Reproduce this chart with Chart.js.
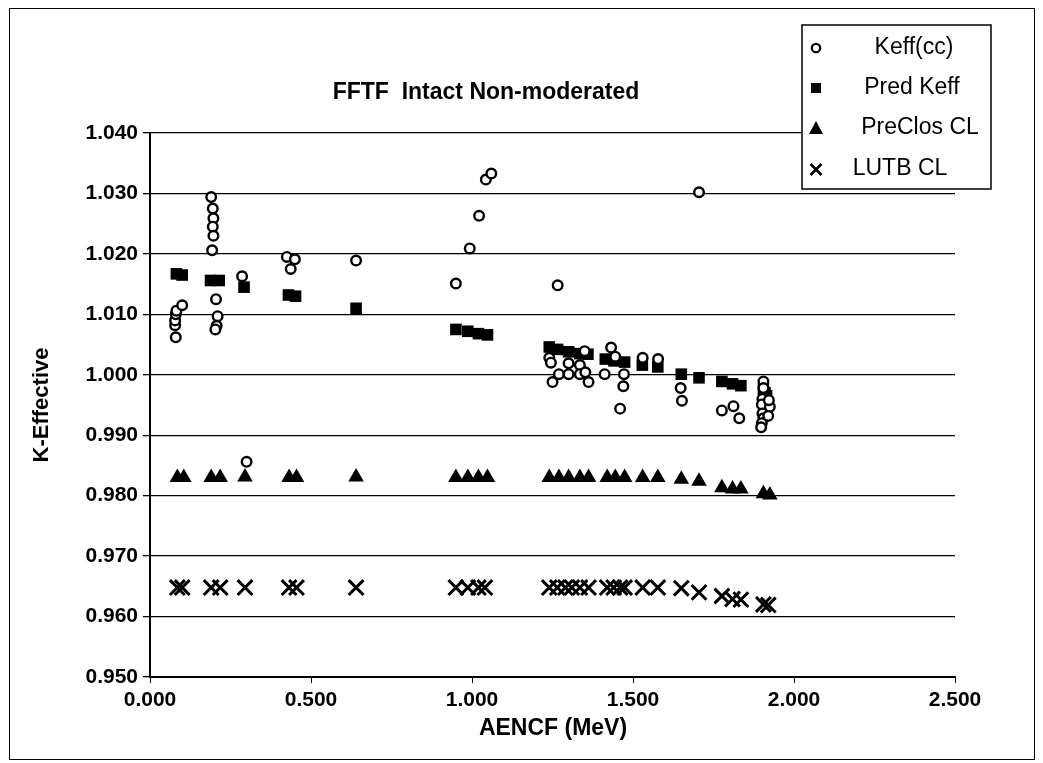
<!DOCTYPE html>
<html>
<head>
<meta charset="utf-8">
<title>FFTF Intact Non-moderated</title>
<script src="https://cdn.jsdelivr.net/npm/chart.js@4/dist/chart.umd.min.js"></script>
<style>
  html, body { margin: 0; padding: 0; background: #fff; }
  #wrap { width: 1043px; height: 763px; position: relative; }
</style>
</head>
<body>
<div id="wrap"><canvas id="chart" width="1043" height="763"></canvas></div>
<script>
// values
var keffX = [0.080, 0.078, 0.078, 0.080, 0.082, 0.100,
    0.190, 0.195, 0.197, 0.195, 0.197, 0.193,
    0.205, 0.210, 0.207, 0.203,
    0.286, 0.300,
    0.425, 0.450, 0.437,
    0.640,
    0.950, 0.993, 1.022, 1.043, 1.060,
    1.266, 1.705,
    1.240, 1.245, 1.250, 1.270, 1.300, 1.300, 1.335, 1.335, 1.350, 1.352, 1.362,
    1.432, 1.445, 1.412, 1.472, 1.470, 1.460,
    1.530, 1.578,
    1.648, 1.652,
    1.776, 1.812, 1.830,
    1.905, 1.905, 1.902, 1.900, 1.902, 1.905, 1.900, 1.898, 1.925, 1.922, 1.920];
var keffY = [1.0062, 1.0082, 1.0090, 1.0100, 1.0106, 1.0115,
    1.0294, 1.0275, 1.0259, 1.0245, 1.0230, 1.0206,
    1.0125, 1.0097, 1.0081, 1.0075,
    1.0163, 0.9856,
    1.0195, 1.0191, 1.0175,
    1.0189,
    1.0151, 1.0209, 1.0263, 1.0323, 1.0333,
    1.0148, 1.0302,
    1.0028, 1.0020, 0.9988, 1.0001, 1.0019, 1.0001, 1.0016, 1.0001, 1.0039, 1.0004, 0.9988,
    1.0045, 1.0030, 1.0001, 1.0001, 0.9981, 0.9944,
    1.0028, 1.0026,
    0.9978, 0.9957,
    0.9941, 0.9948, 0.9928,
    0.9989, 0.9978, 0.9960, 0.9951, 0.9936, 0.9928, 0.9920, 0.9913, 0.9947, 0.9958, 0.9932];

var predX = [0.082, 0.100, 0.188, 0.215, 0.292, 0.430, 0.452, 0.640,
    0.950, 0.987, 1.020, 1.048,
    1.240, 1.266, 1.300, 1.335, 1.360,
    1.414, 1.441, 1.474,
    1.529, 1.577, 1.650, 1.705,
    1.776, 1.809, 1.835,
    1.905, 1.910, 1.915];
var predY = [1.0167, 1.0165, 1.0156, 1.0156, 1.0145, 1.0132, 1.0130, 1.0110,
    1.0075, 1.0072, 1.0068, 1.0066,
    1.0046, 1.0042, 1.0038, 1.0035, 1.0034,
    1.0026, 1.0023, 1.0021,
    1.0016, 1.0013, 1.0001, 0.9995,
    0.9989, 0.9985, 0.9982,
    0.9976, 0.9970, 0.9965];

var closX = [0.085, 0.105, 0.190, 0.218, 0.295, 0.432, 0.455, 0.640,
    0.950, 0.987, 1.020, 1.048,
    1.240, 1.270, 1.300, 1.335, 1.362,
    1.420, 1.445, 1.474, 1.530, 1.577,
    1.650, 1.705, 1.776, 1.809, 1.835, 1.905, 1.925];
var closY = [0.9830, 0.9830, 0.9830, 0.9830, 0.9831, 0.9830, 0.9830, 0.9831,
    0.9830, 0.9830, 0.9830, 0.9830,
    0.9830, 0.9830, 0.9830, 0.9830, 0.9830,
    0.9830, 0.9830, 0.9830, 0.9830, 0.9830,
    0.9827, 0.9824, 0.9813, 0.9811, 0.9811, 0.9803, 0.9801];

var lutbX = [0.085, 0.100, 0.190, 0.218, 0.295, 0.432, 0.455, 0.640,
    0.950, 0.987, 1.020, 1.040,
    1.240, 1.265, 1.290, 1.310, 1.335, 1.362, 1.420, 1.440, 1.460, 1.474, 1.530, 1.577,
    1.650, 1.705, 1.776, 1.809, 1.835, 1.905, 1.920];
var lutbY = [0.9648, 0.9648, 0.9648, 0.9648, 0.9648, 0.9648, 0.9648, 0.9648,
    0.9648, 0.9648, 0.9648, 0.9648,
    0.9648, 0.9648, 0.9648, 0.9648, 0.9648, 0.9648, 0.9648, 0.9648, 0.9648, 0.9648, 0.9648, 0.9648,
    0.9647, 0.9640, 0.9634, 0.9629, 0.9628, 0.9620, 0.9619];

var seriesNames = ['Keff(cc)', 'Pred Keff', 'PreClos CL', 'LUTB CL'];
var chartTitle = 'FFTF  Intact Non-moderated';
var xTitle = 'AENCF (MeV)';
var yTitle = 'K-Effective';

var FONT = '"Liberation Sans", Arial, sans-serif';

function toPoints(xs, ys) {
    return xs.map(function(x, i) { return {x: x, y: ys[i]}; });
}

// title, axis titles, legend box and outer frame
var decorPlugin = {
    id: 'decor',
    afterDraw: function(chart) {
        var ctx = chart.ctx;
        ctx.save();
        ctx.strokeStyle = '#000';
        ctx.lineWidth = 1;
        ctx.strokeRect(9.5, 8.5, 1025, 751);

        ctx.fillStyle = '#000';
        ctx.textAlign = 'center';
        ctx.textBaseline = 'middle';
        ctx.font = 'bold 23px ' + FONT;
        ctx.fillText(chartTitle, 486, 93);

        ctx.font = 'bold 23px ' + FONT;
        ctx.fillText(xTitle, 553, 729);
        ctx.save();
        ctx.translate(42, 405);
        ctx.rotate(-Math.PI / 2);
        ctx.font = 'bold 22px ' + FONT;
        ctx.fillText(yTitle, 0, 0);
        ctx.restore();

        // legend
        ctx.fillStyle = '#fff';
        ctx.fillRect(802, 25, 189, 164);
        ctx.lineWidth = 1.5;
        ctx.strokeStyle = '#000';
        ctx.strokeRect(802, 25, 189, 164);

        var mx = 816;
        ctx.lineWidth = 2.2;
        ctx.beginPath();
        ctx.arc(mx, 48, 4.2, 0, Math.PI * 2);
        ctx.stroke();

        ctx.fillStyle = '#000';
        ctx.fillRect(mx - 5, 83, 10, 10);

        ctx.beginPath();
        ctx.moveTo(mx, 121);
        ctx.lineTo(mx + 7, 134);
        ctx.lineTo(mx - 7, 134);
        ctx.closePath();
        ctx.fill();

        ctx.lineWidth = 2.5;
        ctx.beginPath();
        ctx.moveTo(mx - 5.5, 164); ctx.lineTo(mx + 5.5, 175);
        ctx.moveTo(mx + 5.5, 164); ctx.lineTo(mx - 5.5, 175);
        ctx.stroke();

        ctx.font = '23px ' + FONT;
        ctx.fillText(seriesNames[0], 914, 48);
        ctx.fillText(seriesNames[1], 912, 88);
        ctx.fillText(seriesNames[2], 920, 128);
        ctx.fillText(seriesNames[3], 900, 169);
        ctx.restore();
    }
};

var ctx = document.getElementById('chart').getContext('2d');
var chart = new Chart(ctx, {
    type: 'scatter',
    data: {
        datasets: [
            {
                label: seriesNames[0],
                data: toPoints(keffX, keffY),
                pointStyle: 'circle',
                pointRadius: 4.8,
                borderWidth: 2.4,
                borderColor: '#000',
                backgroundColor: '#fff'
            },
            {
                label: seriesNames[1],
                data: toPoints(predX, predY),
                pointStyle: 'rect',
                pointRadius: 8.2,
                borderWidth: 0,
                borderColor: '#000',
                backgroundColor: '#000'
            },
            {
                label: seriesNames[2],
                data: toPoints(closX, closY),
                pointStyle: 'triangle',
                pointRadius: 9,
                borderWidth: 0,
                borderColor: '#000',
                backgroundColor: '#000'
            },
            {
                label: seriesNames[3],
                data: toPoints(lutbX, lutbY),
                pointStyle: 'crossRot',
                pointRadius: 10.5,
                borderWidth: 3,
                borderColor: '#000',
                backgroundColor: '#000'
            }
        ]
    },
    options: {
        responsive: false,
        animation: false,
        events: [],
        layout: {
            padding: {left: 0, right: 88, top: 133, bottom: 0}
        },
        plugins: {
            legend: {display: false},
            title: {display: false},
            tooltip: {enabled: false}
        },
        scales: {
            x: {
                type: 'linear',
                min: 0,
                max: 2.5,
                afterFit: function(scale) { scale.height = 86; },
                ticks: {
                    stepSize: 0.5,
                    color: '#000',
                    padding: 5,
                    font: {family: FONT, size: 21, weight: 'bold'},
                    callback: function(v) { return v.toFixed(3); }
                },
                grid: {
                    drawOnChartArea: false,
                    drawTicks: true,
                    tickLength: 6,
                    color: '#000'
                },
                border: {color: '#000', width: 2}
            },
            y: {
                type: 'linear',
                min: 0.95,
                max: 1.04,
                afterFit: function(scale) { scale.width = 150; },
                ticks: {
                    stepSize: 0.01,
                    color: '#000',
                    padding: 5,
                    font: {family: FONT, size: 21, weight: 'bold'},
                    callback: function(v) { return v.toFixed(3); }
                },
                grid: {
                    color: '#000',
                    lineWidth: 1.3,
                    tickLength: 7
                },
                border: {color: '#000', width: 2}
            }
        }
    },
    plugins: [decorPlugin]
});
</script>
</body>
</html>
